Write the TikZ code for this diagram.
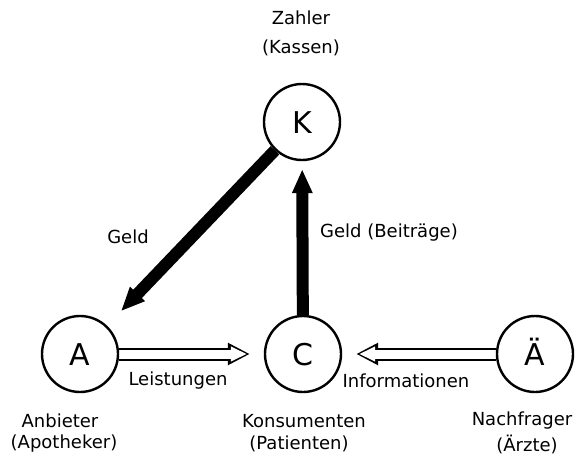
\documentclass[tikz,border=0pt]{standalone}
\usepackage{fontspec}
\setmainfont{DejaVu Sans}
\usetikzlibrary{calc,arrows.meta,backgrounds}

\begin{document}
\begin{tikzpicture}[x=1pt,y=-1pt,>=Latex]
  \tikzset{
    actor/.style={circle,draw=black,line width=2.4pt,fill=white,minimum size=76pt,inner sep=0pt,
      text height=22pt,text depth=0pt,font=\fontsize{30}{30}\selectfont},
    lbl/.style={font=\fontsize{18}{21}\selectfont,inner sep=0pt},
    money/.style={line width=12pt,-{Triangle[length=24pt,width=19pt]}},
    flow/.style={line width=13pt,shorten >=14pt,-{Triangle[length=22pt,width=21pt]},
      postaction={draw=white,line width=9pt,shorten >=17pt,-{Triangle[length=16pt,width=14pt]}}},
  }
  \useasboundingbox (0,0) rectangle (576,463);

  % actors
  \node[actor] (K) at (302,122) {K};
  \node[actor] (A) at (80,354) {A};
  \node[actor] (C) at (303,354) {C};
  \node[actor] (AE) at (535,354) {Ä};

  % flows
  \begin{scope}[on background layer]
    \draw[money,shorten >=20pt] (K) -- (A);
    \draw[money,shorten >=8pt] (C) -- (K);
    \draw[flow] (A) -- (C);
    \draw[flow] (AE) -- (C);
  \end{scope}

  % texts
  \node[lbl] (zahler) at (301,18) {Zahler};
  \node[lbl] (kassen) at (301,48) {(Kassen)};
  \node[lbl] (geldA) at (128,237) {Geld};
  \node[lbl] (geldC) at (389,233) {Geld (Beiträge)};
  \node[lbl] (leist) at (178,381) {Leistungen};
  \node[lbl] (info) at (406,381) {Informationen};
  \node[lbl] (anb) at (60,421) {Anbieter};
  \node[lbl] (apo) at (64,444) {(Apotheker)};
  \node[lbl] (kons) at (304,421) {Konsumenten};
  \node[lbl] (pat) at (299,444) {(Patienten)};
  \node[lbl] (nach) at (522,421) {Nachfrager};
  \node[lbl] (arz) at (527,444) {(Ärzte)};
\end{tikzpicture}
\end{document}
